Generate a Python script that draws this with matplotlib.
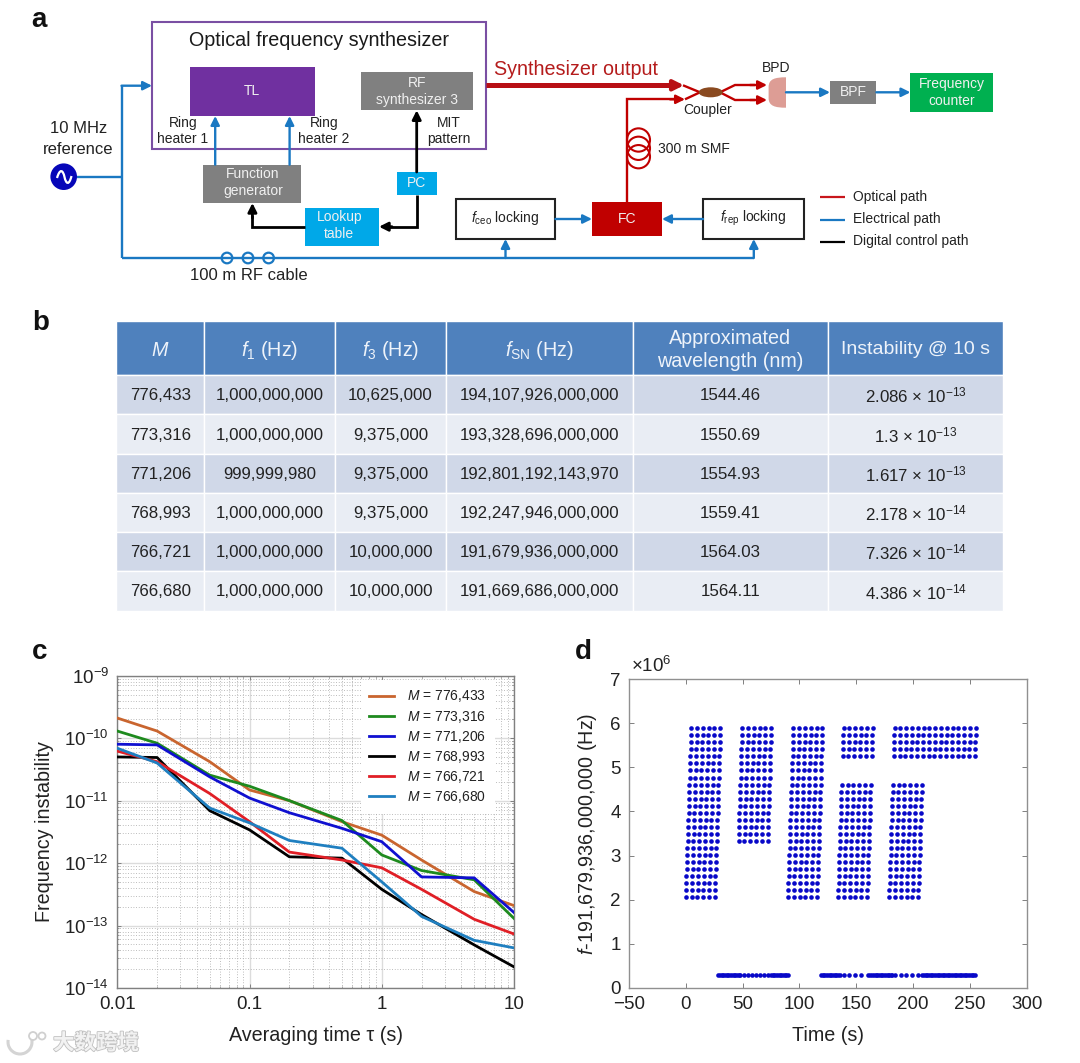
import matplotlib
matplotlib.use("Agg")
import matplotlib.pyplot as plt
import matplotlib.patheffects as pe
from matplotlib.patches import Rectangle, Ellipse, Circle, PathPatch, Arc
from matplotlib.path import Path
from matplotlib.ticker import LogLocator, NullFormatter, FixedLocator

plt.rcParams.update({
    "font.family": ["Liberation Sans", "DejaVu Sans"],
    "mathtext.fontset": "custom",
    "mathtext.rm": "Liberation Sans",
    "mathtext.it": "Liberation Sans:italic",
    "mathtext.bf": "Liberation Sans:bold",
    "mathtext.default": "rm",
})

# ---------- table (panel b) ----------
table_headers = [r"$\mathit{M}$", r"$\mathit{f}_{1}$ (Hz)", r"$\mathit{f}_{3}$ (Hz)",
                 r"$\mathit{f}_{\mathrm{SN}}$ (Hz)", "Approximated\nwavelength (nm)",
                 "Instability @ 10 s"]
col_M = ["776,433", "773,316", "771,206", "768,993", "766,721", "766,680"]
col_f1 = ["1,000,000,000", "1,000,000,000", "999,999,980", "1,000,000,000", "1,000,000,000", "1,000,000,000"]
col_f3 = ["10,625,000", "9,375,000", "9,375,000", "9,375,000", "10,000,000", "10,000,000"]
col_fsn = ["194,107,926,000,000", "193,328,696,000,000", "192,801,192,143,970",
           "192,247,946,000,000", "191,679,936,000,000", "191,669,686,000,000"]
col_wl = ["1544.46", "1550.69", "1554.93", "1559.41", "1564.03", "1564.11"]
col_inst = ["2.086 × $10^{-13}$", "1.3 × $10^{-13}$", "1.617 × $10^{-13}$",
            "2.178 × $10^{-14}$", "7.326 × $10^{-14}$", "4.386 × $10^{-14}$"]

# ---------- panel c ----------
tau = [0.01, 0.02, 0.05, 0.1, 0.2, 0.5, 1, 2, 5, 10]
adev_776433 = [2.1e-10, 1.3e-10, 4.2e-11, 1.48e-11, 1.0e-11, 4.6e-12, 2.8e-12, 1.12e-12, 3.5e-13, 2.086e-13]
adev_773316 = [1.3e-10, 8.3e-11, 2.56e-11, 1.7e-11, 1.0e-11, 4.8e-12, 1.35e-12, 7.6e-13, 5.4e-13, 1.3e-13]
adev_771206 = [8.0e-11, 7.8e-11, 2.4e-11, 1.1e-11, 6.4e-12, 3.6e-12, 2.2e-12, 6.0e-13, 5.8e-13, 1.617e-13]
adev_768993 = [5.0e-11, 4.9e-11, 6.9e-12, 3.4e-12, 1.26e-12, 1.2e-12, 3.8e-13, 1.5e-13, 4.9e-14, 2.178e-14]
adev_766721 = [6.2e-11, 4.2e-11, 1.3e-11, 4.6e-12, 1.5e-12, 1.12e-12, 8.4e-13, 3.8e-13, 1.26e-13, 7.326e-14]
adev_766680 = [6.9e-11, 4.0e-11, 7.6e-12, 4.4e-12, 2.3e-12, 1.73e-12, 5.0e-13, 1.4e-13, 5.8e-14, 4.386e-14]
adev_series = [adev_776433, adev_773316, adev_771206, adev_768993, adev_766721, adev_766680]
adev_colors = ["#c9652f", "#1e8a1e", "#1010d0", "#000000", "#e01f26", "#1f7fc0"]

# ---------- panel d (MHz-offset dots, read row by row) ----------
freq_rows = [2.05, 2.21, 2.37, 2.53, 2.69, 2.85, 3.01, 3.17, 3.33, 3.49, 3.65, 3.81, 3.97,
             4.13, 4.29, 4.45, 4.61, 4.77, 4.93, 5.09, 5.25, 5.41, 5.57, 5.73, 5.89]
row_lag = [0.0, 0.2, 0.4, 0.6, 0.8, 1.0, 1.2, 1.4, 1.6, 1.8, 2.0, 2.2, 2.4,
           2.6, 2.8, 3.0, 3.2, 3.4, 3.6, 3.8, 4.0, 4.2, 4.4, 4.6, 4.8]
block1_times = [0.0, 5.1, 10.2, 15.3, 20.4, 25.5]
block2_times = [44.8, 49.9, 55.0, 60.1, 65.2, 70.3]
block3_times = [89.9, 95.0, 100.1, 105.2, 110.3, 115.4]
block4_times = [134.0, 139.1, 144.2, 149.3, 154.4, 159.5]
block5_times = [179.0, 184.1, 189.2, 194.3, 199.4]
block5_extra = [204.5, 209.6, 214.7, 219.8, 224.9, 230.0, 235.1, 240.2, 245.3, 250.4]
# (column times, row indices)
blocks = [
    (block1_times, list(range(25))),
    (block2_times, list(range(8, 25))),
    (block3_times, list(range(25))),
    (block4_times, list(range(17)) + [20, 21, 22, 23, 24]),
    (block5_times + block5_extra[:1], list(range(17))),
    (block5_times + block5_extra, [20, 21, 22, 23, 24]),
]
base_times = [28.5, 30, 31.5, 33, 34.5, 36, 37.5, 39, 40.5, 42, 43.5, 45, 46.5, 48, 51.5, 55, 58.5, 62, 65.5,
              69, 72, 75, 76.5, 78, 79.5, 81, 82.5, 84, 85.5, 87, 88.5, 90,
              119, 120.5, 122, 123.5, 125, 126.5, 128, 129.5, 131, 132.5, 134, 136, 139.5, 144, 149, 154.5, 160,
              162.5, 164, 165.5, 167, 168.5, 170, 171.5, 173, 174.5, 176, 177.5, 179, 180.5, 181.6,
              184, 189, 194, 199, 204, 208, 209.5, 211, 212.5, 214, 215.5, 217, 218.5, 220, 221.5, 223, 224.5,
              226, 227.5, 229, 230.5, 232, 233.5, 235, 236.5, 238, 239.5, 241, 242.5, 244, 245.5, 247, 248.5,
              250, 251.5, 253, 254.5]
base_level = 0.28

TXT = "#222222"
fig = plt.figure(figsize=(10.8, 10.63), dpi=100, facecolor="white")
W, H = 1080.0, 1063.0

# pixel-coordinate layer for the schematic and table
bg = fig.add_axes([0, 0, 1, 1], zorder=0)
bg.set_xlim(0, W)
bg.set_ylim(H, 0)
bg.axis("off")


def box(x0, y0, x1, y1, fc, ec="none", lw=0, z=2):
    bg.add_patch(Rectangle((x0, y0), x1 - x0, y1 - y0, facecolor=fc, edgecolor=ec, linewidth=lw, zorder=z))


def label(x, y, s, size=10, color=TXT, ha="center", **kw):
    bg.text(x, y, s, fontsize=size, color=color, ha=ha, va="center", zorder=6, **kw)


def wire(xs, ys, color, lw=1.7, z=3):
    bg.plot(xs, ys, color=color, lw=lw, solid_capstyle="butt", solid_joinstyle="miter", zorder=z)


def arrow(x0, y0, x1, y1, color, lw=1.7, ms=13, z=4):
    bg.annotate("", xy=(x1, y1), xytext=(x0, y0), zorder=z,
                arrowprops=dict(arrowstyle="-|>", color=color, lw=lw, mutation_scale=ms,
                                shrinkA=0, shrinkB=0))


BLUE = "#1a78c2"
RED = "#c00000"
GREY = "#808080"
CYAN = "#00a8e8"
WT = "#f0f0f0"

# panel letters
for (lx, ly, s) in [(39, 20, "a"), (41, 323, "b"), (40, 652, "c"), (583, 652, "d")]:
    label(lx, ly, s, size=20, color="#111111", fontweight="bold")

# panel a
box(152, 22.3, 485.5, 149.3, "none", ec="#7a4fa3", lw=1.5)
label(319, 40, "Optical frequency synthesizer", size=14.2, color="#1a1a1a")
box(190, 66.7, 315, 116, "#7030a0")
label(252, 90.7, "TL", size=10, color=WT)
box(361, 72.3, 472.5, 110.3, GREY)
label(416.7, 83, "RF", size=10, color=WT)
label(416.7, 100, "synthesizer 3", size=10, color=WT)
label(183, 122.7, "Ring", size=10)
label(183, 139, "heater 1", size=10)
label(323.7, 122.7, "Ring", size=10)
label(323.7, 139, "heater 2", size=10)
label(448.7, 122.7, "MIT", size=10)
label(448.7, 139, "pattern", size=10)
box(203, 164.7, 301, 203, GREY)
label(253, 174, "Function", size=10, color=WT)
label(253, 191, "generator", size=10, color=WT)
box(396.7, 172, 436.6, 195.3, CYAN)
label(416.7, 182.7, "PC", size=10, color=WT)
box(304.8, 208, 378.8, 245.7, CYAN)
label(339.2, 217.3, "Lookup", size=10, color=WT)
label(339.2, 234, "table", size=10, color=WT)
label(78.2, 128.3, "10 MHz", size=12)
label(78.2, 149, "reference", size=12)
label(249.3, 276, "100 m RF cable", size=12)

# source and electrical wiring
bg.add_patch(Circle((63.7, 176.7), 13.3, facecolor="#0606b8", edgecolor="none", zorder=4))
sine = Path([(57, 178), (60, 168), (63, 170), (64.5, 177), (66, 184), (69, 186), (71.5, 176)],
            [Path.MOVETO, Path.CURVE4, Path.CURVE4, Path.CURVE4, Path.CURVE4, Path.CURVE4, Path.CURVE4])
bg.add_patch(PathPatch(sine, facecolor="none", edgecolor="white", linewidth=1.6, zorder=5))
wire([121.5, 77], [177, 177], BLUE)
wire([121.5, 121.5], [85.7, 258], BLUE)
arrow(121.5, 85.7, 152, 85.7, BLUE)
wire([121.5, 753.8], [258, 258], BLUE)
arrow(505.5, 258, 505.5, 239, BLUE)
arrow(753.8, 258, 753.8, 239, BLUE)
for cx in (227, 248, 268.6):
    bg.add_patch(Circle((cx, 258), 5.3, facecolor="none", edgecolor=BLUE, linewidth=1.6, zorder=4))
arrow(215.2, 164.7, 215.2, 116, BLUE)
arrow(289.6, 164.7, 289.6, 116, BLUE)

# digital wiring
arrow(416.7, 172, 416.7, 110.3, "#000000", lw=2)
wire([416.7, 416.7, 385], [195.3, 226.7, 226.7], "#000000", lw=2)
arrow(392, 226.7, 379, 226.7, "#000000", lw=2)
wire([304.8, 252.4, 252.4], [226.7, 226.7, 215], "#000000", lw=2)
arrow(252.4, 218, 252.4, 203, "#000000", lw=2)

# lock boxes and comb
box(455.6, 199.3, 555.4, 239, "white", ec="#222222", lw=1.5)
box(703, 199.3, 803.7, 239, "white", ec="#222222", lw=1.5)
box(592, 201.7, 661.8, 236, RED)
label(627, 219, "FC", size=10, color=WT)
label(505.5, 218.3, r"$\mathit{f}_{\mathrm{ceo}}$ locking", size=10)
label(753.5, 218.3, r"$\mathit{f}_{\mathrm{rep}}$ locking", size=10)
arrow(555.4, 219, 592, 219, BLUE)
arrow(703, 219, 662, 219, BLUE)

# optical path
wire([485.5, 672], [85.3, 85.3], "#b80f14", lw=3.6)
arrow(665, 85.3, 684, 85.3, "#b80f14", lw=3, ms=15)
label(576, 69.3, "Synthesizer output", size=14.2, color="#b51c1c")
wire([627, 627, 675], [201.7, 99.3, 99.3], RED)
arrow(670, 99.3, 685, 99.3, RED)
wire([683, 700], [85.3, 92.3], RED)
wire([685, 700], [99.3, 92.3], RED)
bg.add_patch(Ellipse((710.7, 92.3), 24, 10, facecolor="#8a4a20", edgecolor="none", zorder=4))
wire([720, 735, 755], [92.3, 85, 85], RED)
wire([720, 735, 755], [92.3, 100, 100], RED)
arrow(750, 85, 767, 85, RED)
arrow(750, 100, 767, 100, RED)
for cy in (140, 148.3, 156.7):
    bg.add_patch(Ellipse((638.5, cy), 23, 23.3, facecolor="none", edgecolor=RED, linewidth=1.5, zorder=3))
label(657.7, 149, "300 m SMF", size=10, ha="left")
label(707.3, 110, "Coupler", size=10)
label(776, 68, "BPD", size=10)
bpd = Path([(786, 77.3), (775, 77.3), (768.6, 79), (768.6, 87), (768.6, 98), (768.6, 106), (775, 107.7), (786, 107.7), (786, 77.3)],
           [Path.MOVETO, Path.CURVE4, Path.CURVE4, Path.CURVE4, Path.LINETO, Path.CURVE4, Path.CURVE4, Path.CURVE4, Path.CLOSEPOLY])
bg.add_patch(PathPatch(bpd, facecolor="#dd9d95", edgecolor="none", zorder=4))
arrow(786, 92.3, 830, 92.3, BLUE)
box(830, 81.3, 876.4, 103.7, GREY)
label(853, 92.3, "BPF", size=10, color=WT)
arrow(876.4, 92.3, 910.4, 92.3, BLUE)
box(910.4, 73.3, 993, 111.7, "#00b050")
label(951.5, 84, "Frequency", size=10, color=WT)
label(951.5, 100.7, "counter", size=10, color=WT)

# path key
for ky, kc, kt in [(197.3, "#c8161c", "Optical path"), (220, BLUE, "Electrical path"), (241.7, "#000000", "Digital control path")]:
    wire([820, 845], [ky, ky], kc, lw=1.6)
    label(852.6, ky - 0.5, kt, size=10, ha="left")

# panel b
col_edges = [116, 204.4, 335.4, 445.6, 632.7, 828.3, 1003.3]
row_edges = [320.7, 375, 414.3, 453.7, 493, 532, 571.3, 610.6]
for c in range(6):
    box(col_edges[c], row_edges[0], col_edges[c + 1], row_edges[1], "#4f81bd", ec="white", lw=1)
    cx = (col_edges[c] + col_edges[c + 1]) / 2
    label(cx, 350, table_headers[c], size=14 if c == 5 else 14.2, color="#eef3fa", linespacing=1.3)
columns = [col_M, col_f1, col_f3, col_fsn, col_wl, col_inst]
for r in range(6):
    fc = "#d0d8e8" if r % 2 == 0 else "#e9edf4"
    cy = (row_edges[r + 1] + row_edges[r + 2]) / 2 + 1
    for c in range(6):
        box(col_edges[c], row_edges[r + 1], col_edges[c + 1], row_edges[r + 2], fc, ec="white", lw=1)
        label((col_edges[c] + col_edges[c + 1]) / 2, cy, columns[c][r], size=12.2)

# watermark
wm = bg.text(53, 1043, "大数跨境", fontsize=15.5, color="#f2f2f2", ha="left", va="center",
             family=["Noto Sans CJK SC", "DejaVu Sans"], fontweight="bold", zorder=6)
wm.set_path_effects([pe.withStroke(linewidth=1.2, foreground="#c0c0c0")])
bg.add_patch(Arc((20, 1042), 24, 24, theta1=-10, theta2=190, edgecolor="#d4d4d4", linewidth=2.2, zorder=6))
for cx, cy, r in [(33, 1036, 4), (42, 1036, 3.5)]:
    bg.add_patch(Circle((cx, cy), r, facecolor="none", edgecolor="#d0d0d0", linewidth=1.3, zorder=6))

# panel c
axc = fig.add_axes([117.3 / W, (H - 988) / H, 396.7 / W, 312.3 / H], zorder=2)
axc.set_xscale("log")
axc.set_yscale("log")
axc.set_xlim(0.01, 10)
axc.set_ylim(1e-14, 1e-9)
for vals, col, m in zip(adev_series, adev_colors, col_M):
    axc.plot(tau, vals, color=col, lw=2.0, label=rf"$\mathit{{M}}$ = {m}", zorder=3)
axc.yaxis.set_major_locator(FixedLocator([1e-14, 1e-13, 1e-12, 1e-11, 1e-10, 1e-9]))
axc.yaxis.set_minor_locator(LogLocator(base=10, subs=range(2, 10), numticks=10))
axc.xaxis.set_major_locator(FixedLocator([0.01, 0.1, 1, 10]))
axc.xaxis.set_minor_locator(LogLocator(base=10, subs=range(2, 10), numticks=10))
axc.set_xticklabels(["0.01", "0.1", "1", "10"])
axc.set_yticklabels([rf"$10^{{{e}}}$" for e in (-14, -13, -12, -11, -10, -9)])
axc.xaxis.set_minor_formatter(NullFormatter())
axc.yaxis.set_minor_formatter(NullFormatter())
axc.grid(True, which="major", color="#dcdcdc", lw=1.0, ls="-", zorder=0)
axc.grid(True, which="minor", color="#a6a6a6", lw=0.6, ls=(0, (1, 2.2)), zorder=0)
axc.set_axisbelow(True)
axc.tick_params(which="major", direction="in", length=3, width=0.7, color="#808080",
                labelsize=13.5, labelcolor=TXT, top=True, right=True, pad=6)
axc.tick_params(which="minor", direction="in", length=1.5, width=0.5, color="#808080", top=True, right=True)
for s in axc.spines.values():
    s.set_color("#808080")
    s.set_linewidth(1.0)
axc.set_xlabel("Averaging time τ (s)", fontsize=14.2, color=TXT, labelpad=9)
axc.set_ylabel("Frequency instability", fontsize=14.2, color=TXT, labelpad=7.5)
leg = axc.legend(loc="upper left", bbox_to_anchor=(0.614, 0.986), frameon=True, framealpha=1,
                 facecolor="white", edgecolor="none", fancybox=False, fontsize=10, labelcolor=TXT,
                 handlelength=1.8, handletextpad=0.95, labelspacing=0.3, borderpad=0.6, borderaxespad=0)
leg.set_zorder(5)

# panel d
axd = fig.add_axes([629 / W, (H - 987.7) / H, 397.7 / W, 308.4 / H], zorder=2)
for times, rows in blocks:
    xs = [t + row_lag[r] for r in rows for t in times]
    ys = [freq_rows[r] for r in rows for t in times]
    axd.scatter(xs, ys, s=11, color="#0808c8", linewidths=0, zorder=3)
axd.scatter(base_times, [base_level] * len(base_times), s=11, color="#0808c8", linewidths=0, zorder=3)
axd.set_xlim(-50, 300)
axd.set_ylim(0, 7)
axd.set_xticks([-50, 0, 50, 100, 150, 200, 250, 300])
axd.set_yticks(range(8))
axd.tick_params(direction="in", length=3.5, width=0.7, color="#808080", labelsize=13.5,
                labelcolor=TXT, top=True, right=True, pad=6)
for s in axd.spines.values():
    s.set_color("#909090")
    s.set_linewidth(1.0)
axd.set_xlabel("Time (s)", fontsize=14.2, color=TXT, labelpad=9)
axd.set_ylabel(r"$\mathit{f}$-191,679,936,000,000 (Hz)", fontsize=14.2, color=TXT, labelpad=8)
bg.text(631, 666, r"×$10^{6}$", fontsize=13.5, color=TXT, ha="left", va="center", zorder=6)

fig.savefig("out.png", dpi=100)
